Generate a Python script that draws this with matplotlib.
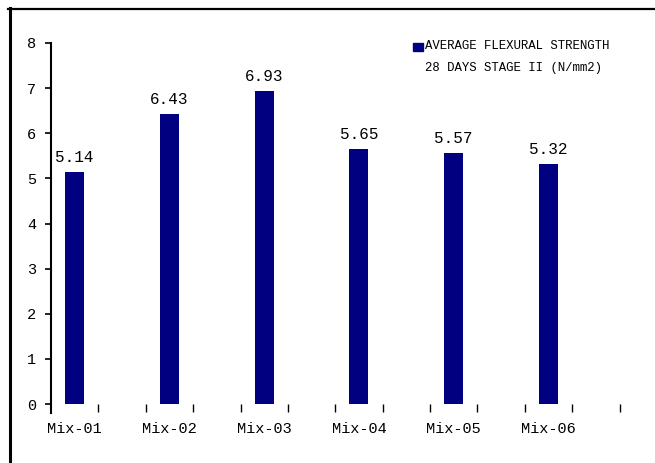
import matplotlib
matplotlib.use("Agg")
import matplotlib.pyplot as plt
from matplotlib.lines import Line2D
from matplotlib.patches import Rectangle
import numpy as np

mixes = ['Mix-01', 'Mix-02', 'Mix-03', 'Mix-04', 'Mix-05', 'Mix-06']
strength = [5.14, 6.43, 6.93, 5.65, 5.57, 5.32]
value_labels = ['5.14', '6.43', '6.93', '5.65', '5.57', '5.32']
yticks = [0, 1, 2, 3, 4, 5, 6, 7, 8]
legend_lines = ['AVERAGE FLEXURAL STRENGTH', '28 DAYS STAGE II (N/mm2)']

BAR_COLOR = '#000080'
FONT = 'Liberation Mono'

plt.rcParams['font.family'] = [FONT, 'DejaVu Sans Mono']

fig = plt.figure(figsize=(6.55, 4.63), dpi=100)
ax = fig.add_axes([51 / 655, 59 / 463, 568.5 / 655, 361 / 463])

x = np.arange(len(mixes)) + 0.25
ax.bar(x, strength, width=0.2, color=BAR_COLOR, zorder=2)

for xi, v, lab in zip(x, strength, value_labels):
    ax.annotate(lab, (xi, v), xytext=(0, 5), textcoords='offset points',
                ha='center', va='bottom', fontsize=11.5)

ax.set_xlim(0, 6)
ax.set_ylim(0, 8)

ax.set_xticks(np.arange(0.5, 6.01, 0.5))
ax.set_xticklabels([])
ax.set_xticks(x, minor=True)
ax.set_xticklabels(mixes, minor=True, fontsize=11)
ax.tick_params(axis='x', which='major', direction='out', length=5.5, width=1)
ax.tick_params(axis='x', which='minor', length=0, pad=13)

ax.set_yticks(yticks)
ax.set_yticklabels([str(t) for t in yticks], fontsize=11)
ax.tick_params(axis='y', direction='out', length=4.5, width=1.2, pad=6)

for s in ['top', 'right', 'bottom', 'left']:
    ax.spines[s].set_visible(False)
# left axis line, running a little below zero like the original
ax.add_line(Line2D([0, 0], [-0.2, 8], color='black', lw=1.5,
                   clip_on=False, transform=ax.get_yaxis_transform()))

# legend drawn by hand: square beside the first line only
fig.patches.append(Rectangle((413 / 655, 1 - 51 / 463), 10 / 655, 8 / 463,
                             transform=fig.transFigure, color=BAR_COLOR))
fig.text(425 / 655, 1 - 46 / 463, legend_lines[0], fontsize=8.9,
         va='center', ha='left')
fig.text(425 / 655, 1 - 68 / 463, legend_lines[1], fontsize=8.9,
         va='center', ha='left')

# frame lines on top and left edges
fig.add_artist(Line2D([8 / 655, 1], [1 - 9 / 463, 1 - 9 / 463],
                      color='black', lw=1.6, transform=fig.transFigure))
fig.add_artist(Line2D([9.5 / 655, 9.5 / 655], [0, 1 - 8 / 463],
                      color='black', lw=2.2, transform=fig.transFigure))

fig.savefig('out.png', dpi=100)
